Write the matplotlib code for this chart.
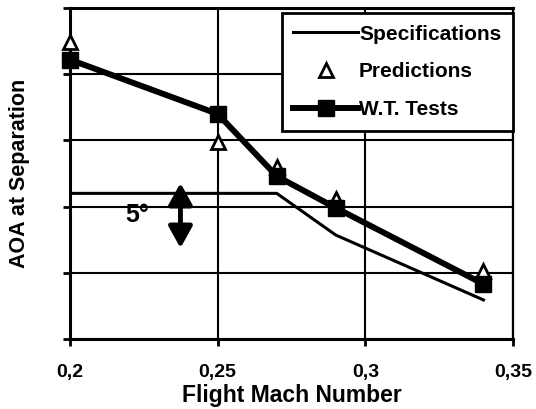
import matplotlib.pyplot as plt
import numpy as np

plt.rcParams['font.family'] = ['Liberation Sans', 'DejaVu Sans']
plt.rcParams['font.weight'] = 'bold'

# Angle of attack at separation (degrees, relative scale; grid every 5 deg)
mach_spec = [0.20, 0.27, 0.29, 0.34]
aoa_spec = [11.0, 11.0, 7.85, 2.95]

mach_pred = [0.20, 0.25, 0.27, 0.29, 0.34]
aoa_pred = [22.4, 14.9, 13.0, 10.6, 5.1]

mach_wt = [0.20, 0.25, 0.27, 0.29, 0.34]
aoa_wt = [21.1, 17.0, 12.3, 9.9, 4.15]

x_ticks = [0.20, 0.25, 0.30, 0.35]
x_tick_labels = ['0,2', '0,25', '0,3', '0,35']
y_grid = [0, 5, 10, 15, 20, 25]

fig = plt.figure(figsize=(5.36, 4.09), dpi=100)
ax = fig.add_axes([70 / 536, 1 - 339 / 409, 443 / 536, 331 / 409])

ax.set_xlim(0.20, 0.35)
ax.set_ylim(0, 25)
ax.set_xticks(x_ticks)
ax.set_xticklabels(x_tick_labels, fontsize=14, fontweight='bold')
ax.set_yticks(y_grid)
ax.set_yticklabels([])
ax.tick_params(axis='both', direction='out', length=5, width=2, color='black')
ax.tick_params(axis='x', pad=13)
ax.grid(True, color='black', linewidth=1.5, zorder=0)
ax.set_axisbelow(True)
for side in ['left', 'bottom', 'top']:
    ax.spines[side].set_linewidth(2.2)
ax.spines['right'].set_linewidth(1.6)

ax.plot(mach_spec, aoa_spec, color='black', linewidth=2.2, zorder=3,
        label='Specifications')
ax.plot(mach_pred, aoa_pred, linestyle='none', marker='^', markersize=10,
        markerfacecolor='white', markeredgecolor='black', markeredgewidth=2,
        zorder=4, clip_on=False, label='Predictions')
ax.plot(mach_wt, aoa_wt, color='black', linewidth=4.3, marker='s',
        markersize=11, zorder=5, clip_on=False, label='W.T. Tests')

# 5 degree scale arrow
ax.annotate('', xy=(0.2374, 6.87), xytext=(0.2374, 11.78),
            arrowprops=dict(arrowstyle='<|-|>,head_length=0.65,head_width=0.36',
                            mutation_scale=20, lw=3.5, color='black',
                            shrinkA=0, shrinkB=0),
            zorder=6)
ax.text(0.2228, 9.4, '5°', fontsize=18, fontweight='bold', ha='center',
        va='center', zorder=6)

ax.set_xlabel('Flight Mach Number', fontsize=16.5, fontweight='bold', labelpad=2)
ax.set_ylabel('AOA at Separation', fontsize=15.5, fontweight='bold', labelpad=20)

leg = ax.legend(loc='upper right', bbox_to_anchor=(1.0, 1 - 5 / 331),
                borderaxespad=0, fancybox=False, framealpha=1,
                edgecolor='black', fontsize=15, handlelength=3.1,
                handletextpad=0.05, labelspacing=0.9, borderpad=0.56)
leg.get_frame().set_linewidth(2)
for t in leg.get_texts():
    t.set_fontweight('bold')

fig.savefig('out.png', dpi=100)
